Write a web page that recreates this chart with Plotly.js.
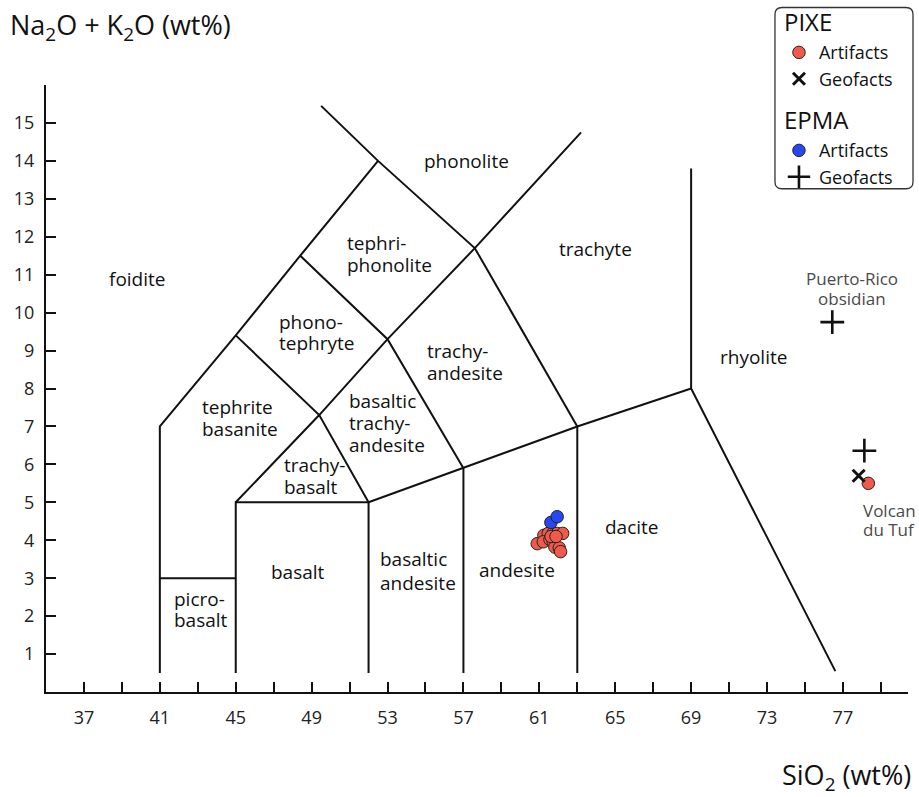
<!DOCTYPE html>
<html>
<head>
<meta charset="utf-8">
<script src="https://cdn.plot.ly/plotly-3.0.1.min.js"></script>
<style>html,body{margin:0;padding:0;background:#fff;}#chart{width:919px;height:797px;}</style>
</head>
<body>
<div id="chart"></div>
<script>
// ---- Data ----
const pixeArtifactsSiO2 = [60.89, 61.24, 61.47, 61.73, 61.94, 62.23, 61.21, 61.56, 61.73, 61.82, 62.05, 62.12, 61.62, 61.88, 78.34];
const pixeArtifactsAlk  = [3.91, 4.13, 4.18, 4.19, 4.18, 4.18, 3.96, 4.02, 3.96, 3.82, 3.80, 3.70, 4.10, 4.10, 5.50];
const pixeGeofactsSiO2 = [77.83];
const pixeGeofactsAlk  = [5.70];
const epmaArtifactsSiO2 = [61.61, 61.94];
const epmaArtifactsAlk  = [4.47, 4.62];
const epmaGeofactsSiO2 = [76.44, 78.13];
const epmaGeofactsAlk  = [9.75, 6.36];

// TAS field boundaries (SiO2, Na2O+K2O) polylines
const boundaries = [
  [[41,0.5],[41,7],[45,9.4],[48.4,11.5],[52.5,14]],
  [[49.5,15.45],[52.5,14],[57.6,11.7],[63.2,14.75]],
  [[41,3],[45,3]],
  [[45,0.5],[45,5],[52,5],[52,0.5]],
  [[45,5],[49.4,7.3],[53,9.3],[57.6,11.7]],
  [[45,9.4],[49.4,7.3],[52,5]],
  [[48.4,11.5],[53,9.3],[57,5.9]],
  [[57.6,11.7],[63,7]],
  [[52,5],[57,5.9],[63,7],[69,8]],
  [[57,0.5],[57,5.9]],
  [[63,0.5],[63,7]],
  [[69,13.8],[69,8],[76.6,0.55]]
];

// Tick labels
const xTickVals = [37,41,45,49,53,57,61,65,69,73,77];
const xTickText = xTickVals.map(String);
const xMinorTicks = [39,43,47,51,55,59,63,67,71,75,79];
const yTickVals = [1,2,3,4,5,6,7,8,9,10,11,12,13,14,15];
const yTickText = yTickVals.map(String);

// Field names (one entry per text line)
const fieldLines = ["foidite","phonolite","tephri-","phonolite","trachyte","phono-","tephryte",
  "trachy-","andesite","tephrite","basanite","basaltic","trachy-","andesite","trachy-","basalt",
  "basalt","picro-","basalt","basaltic","andesite","andesite","dacite","rhyolite"];
// placement: [x, y, xanchor]
const fieldPlace = [
  [39.8,10.89,"center"],[57.18,14.0,"center"],[50.75,11.84,"left"],[50.75,11.26,"left"],
  [61.93,11.68,"left"],[47.17,9.76,"left"],[47.17,9.2,"left"],
  [54.98,9.0,"left"],[54.98,8.42,"left"],[43.11,7.51,"left"],[43.11,6.93,"left"],
  [50.86,7.68,"left"],[50.86,7.1,"left"],[50.86,6.52,"left"],[47.43,5.98,"left"],[47.43,5.40,"left"],
  [48.27,3.16,"center"],[41.63,2.44,"left"],[41.63,1.89,"left"],[52.49,3.5,"left"],[52.49,2.88,"left"],
  [59.82,3.21,"center"],[65.88,4.34,"center"],[72.31,8.83,"center"]
];
const siteLines = ["Puerto-Rico","obsidian","Volcan","du Tuf"];
const sitePlace = [[77.48,10.91,"center"],[77.48,10.36,"center"],[77.95,4.79,"left"],[77.95,4.29,"left"]];

const FONT = "Open Sans, sans-serif";
const red = "#F05A4A", blue = "#2747F0";

const traces = [];
boundaries.forEach(seg => {
  traces.push({x: seg.map(p=>p[0]), y: seg.map(p=>p[1]), mode:"lines", type:"scatter",
    line:{color:"#111", width:2}, showlegend:false, hoverinfo:"skip"});
});
traces.push({x:pixeArtifactsSiO2, y:pixeArtifactsAlk, mode:"markers", type:"scatter", name:"Artifacts",
  legendgroup:"PIXE", legendgrouptitle:{text:"PIXE", font:{size:24, family:FONT, color:"#111"}},
  marker:{color:red, size:12.5, line:{color:"#222", width:1}}});
traces.push({x:pixeGeofactsSiO2, y:pixeGeofactsAlk, mode:"markers", type:"scatter", name:"Geofacts",
  legendgroup:"PIXE", marker:{symbol:"x-thin", color:"#111", size:12, line:{color:"#111", width:3}}});
traces.push({x:epmaArtifactsSiO2, y:epmaArtifactsAlk, mode:"markers", type:"scatter", name:"Artifacts",
  legendgroup:"EPMA", legendgrouptitle:{text:"EPMA", font:{size:24, family:FONT, color:"#111"}},
  marker:{color:blue, size:12.5, line:{color:"#222", width:1}}});
traces.push({x:epmaGeofactsSiO2, y:epmaGeofactsAlk, mode:"markers", type:"scatter", name:"Geofacts",
  legendgroup:"EPMA", marker:{symbol:"cross-thin", color:"#111", size:17, line:{color:"#111", width:2.6}}});

const annotations = [];
fieldLines.forEach((t,i)=>{
  annotations.push({x:fieldPlace[i][0], y:fieldPlace[i][1], xref:"x", yref:"y", text:t, showarrow:false,
    xanchor:fieldPlace[i][2], yanchor:"middle", font:{family:FONT, size:19, color:"#111"}});
});
siteLines.forEach((t,i)=>{
  annotations.push({x:sitePlace[i][0], y:sitePlace[i][1], xref:"x", yref:"y", text:t, showarrow:false,
    xanchor:sitePlace[i][2], yanchor:"middle", font:{family:FONT, size:17, color:"#4a4a4a"}});
});

// geometry helpers for paper coords
const W=919, H=797, mL=46.2, mR=11, mT=85.4, mB=105.4;
const pw=W-mL-mR, ph=H-mT-mB;
const px2x = p => (p-mL)/pw;
const py2y = p => (H-mB-p)/ph;

annotations.push({xref:"paper", yref:"paper", x:px2x(8), y:py2y(27), xanchor:"left", yanchor:"middle",
  text:"Na<sub>2</sub>O + K<sub>2</sub>O (wt%)", showarrow:false, font:{family:FONT, size:27, color:"#111"}});
annotations.push({xref:"paper", yref:"paper", x:px2x(913), y:py2y(776), xanchor:"right", yanchor:"middle",
  text:"SiO<sub>2</sub> (wt%)", showarrow:false, font:{family:FONT, size:27, color:"#111"}});

// rounded legend frame
const bx0=px2x(775), bx1=px2x(913), by0=py2y(189), by1=py2y(8);
const rx=7/pw, ry=7/ph;
const framePath = `M ${bx0+rx},${by1} L ${bx1-rx},${by1} Q ${bx1},${by1} ${bx1},${by1-ry} L ${bx1},${by0+ry} Q ${bx1},${by0} ${bx1-rx},${by0} L ${bx0+rx},${by0} Q ${bx0},${by0} ${bx0},${by0+ry} L ${bx0},${by1-ry} Q ${bx0},${by1} ${bx0+rx},${by1} Z`;

const layout = {
  width:W, height:H,
  margin:{l:mL, r:mR, t:mT, b:mB, pad:0, autoexpand:false},
  paper_bgcolor:"#fff", plot_bgcolor:"#fff",
  font:{family:FONT, color:"#111"},
  showlegend:true,
  legend:{x:px2x(779), y:py2y(0.5), xanchor:"left", yanchor:"top", bgcolor:"rgba(0,0,0,0)", borderwidth:0,
    traceorder:"grouped", tracegroupgap:11, itemwidth:30,
    font:{family:FONT, size:18, color:"#111"}},
  xaxis:{range:[35, 80.43], showgrid:false, zeroline:false, showline:true, linecolor:"#111", linewidth:2,
    ticks:"inside", ticklen:10, tickwidth:2, tickcolor:"#111",
    tickmode:"array", tickvals:xTickVals, ticktext:xTickText, ticklabelstandoff:8,
    tickfont:{family:FONT, size:18, color:"#222"},
    minor:{tickmode:"array", tickvals:xMinorTicks, ticks:"inside", ticklen:10, tickwidth:2, tickcolor:"#111", showgrid:false},
    fixedrange:true},
  yaxis:{range:[0,16], showgrid:false, zeroline:false, showline:true, linecolor:"#111", linewidth:2,
    ticks:"inside", ticklen:10, tickwidth:2, tickcolor:"#111",
    tickmode:"array", tickvals:yTickVals, ticktext:yTickText, ticklabelstandoff:6,
    tickfont:{family:FONT, size:18, color:"#222"}, fixedrange:true},
  annotations: annotations,
  shapes:[{type:"path", xref:"paper", yref:"paper", path:framePath, line:{color:"#333", width:1.3}, fillcolor:"rgba(0,0,0,0)"}]
};

Plotly.newPlot("chart", traces, layout, {displayModeBar:false, staticPlot:true});
</script>
</body>
</html>
